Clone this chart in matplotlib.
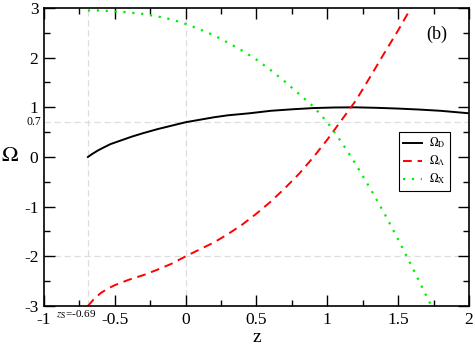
import matplotlib
matplotlib.use("Agg")
import matplotlib.pyplot as plt
from matplotlib.ticker import MultipleLocator

plt.rcParams['font.family'] = ['Liberation Serif', 'DejaVu Serif']
plt.rcParams['mathtext.fontset'] = 'stix'

# values
z_d = [-0.69, -0.66, -0.62, -0.58, -0.53, -0.45, -0.38, -0.3, -0.2, -0.1, 0.0, 0.1, 0.2, 0.3,
       0.45, 0.6, 0.75, 0.9, 1.05, 1.2, 1.35, 1.5, 1.65, 1.8, 2.0]
omega_d = [0.0, 0.06, 0.13, 0.19, 0.26, 0.34, 0.41, 0.48, 0.56, 0.63, 0.70, 0.75, 0.80, 0.84,
           0.88, 0.93, 0.96, 0.985, 0.997, 1.0, 0.99, 0.975, 0.955, 0.93, 0.88]

z_l = [-0.69, -0.65, -0.6, -0.55, -0.5, -0.4, -0.3, -0.2, -0.1, 0.0, 0.1, 0.2, 0.3, 0.4, 0.5,
       0.6, 0.7, 0.8, 0.9, 1.0, 1.1, 1.2, 1.3, 1.4, 1.5, 1.59]
omega_l = [-3.0, -2.87, -2.74, -2.65, -2.58, -2.47, -2.38, -2.27, -2.15, -2.0, -1.86, -1.72,
           -1.55, -1.36, -1.14, -0.9, -0.63, -0.34, -0.01, 0.35, 0.74, 1.13, 1.6, 2.08, 2.55, 3.0]

z_x = [-0.69, -0.6, -0.5, -0.4, -0.3, -0.2, -0.1, 0.0, 0.1, 0.2, 0.3, 0.4, 0.5, 0.6, 0.7,
       0.8, 0.9, 1.0, 1.1, 1.2, 1.3, 1.4, 1.5, 1.6, 1.7, 1.74]
omega_x = [2.95, 2.95, 2.93, 2.91, 2.88, 2.83, 2.77, 2.68, 2.57, 2.45, 2.30, 2.14, 1.96, 1.75,
           1.52, 1.27, 1.02, 0.7, 0.3, -0.14, -0.62, -1.12, -1.66, -2.22, -2.8, -3.03]

x_ticks = [-1, -0.5, 0, 0.5, 1, 1.5, 2]
x_labels = ['-1', '-0.5', '0', '0.5', '1', '1.5', '2']
y_ticks = [-3, -2, -1, 0, 1, 2, 3]
y_labels = ['-3', '-2', '-1', '0', '1', '2', '3']

z_s = -0.69
ref_lines_x = [z_s, 0.0]
ref_lines_y = [0.7, -2.0]

fig = plt.figure(figsize=(4.75, 3.46), dpi=100)
ax = fig.add_axes([0.0926, 0.1156, 0.8947, 0.8613])

for xv in ref_lines_x:
    ax.axvline(xv, color='#dddddd', lw=0.9, ls=(0, (5, 3)), zorder=0)
for yv in ref_lines_y:
    ax.axhline(yv, color='#dddddd', lw=0.9, ls=(0, (5, 3)), zorder=0)

ax.plot(z_d, omega_d, color='black', lw=1.4, label=r'$\Omega_{\rm D}$')
ax.plot(z_l, omega_l, color='#ff0000', lw=1.4, ls=(0, (4.5, 3)), label=r'$\Omega_{\Lambda}$')
ax.plot(z_x, omega_x, color='#00ee00', lw=1.6, ls=(0, (1, 3)), label=r'$\Omega_{\rm X}$')

ax.set_xlim(-1, 2)
ax.set_ylim(-3, 3)
ax.set_xticks(x_ticks)
ax.set_xticklabels(x_labels)
ax.set_yticks(y_ticks)
ax.set_yticklabels(y_labels)
ax.xaxis.set_minor_locator(MultipleLocator(0.25))
ax.yaxis.set_minor_locator(MultipleLocator(0.5))
ax.tick_params(which='both', direction='in', top=True, right=True, labelsize=12.5, pad=4)
ax.tick_params(which='major', length=8, width=1)
ax.tick_params(which='minor', length=4, width=1)
for s in ax.spines.values():
    s.set_linewidth(1.2)

ax.text(-1.02, 0.7, '0.7', ha='right', va='center', fontsize=8.5)
ax.text(-0.775, -3.17, r'$z_{\rm S}$=-0.69', ha='center', va='center', fontsize=8)
ax.text(1.77, 2.46, '(b)', ha='center', va='center', fontsize=13)

ax.set_xlabel('z', fontsize=14, va='center')
ax.xaxis.set_label_coords(0.5, -0.105)
ax.set_ylabel(r'$\Omega$', fontsize=16, rotation=0, va='center', ha='center')
ax.yaxis.set_label_coords(-0.08, 0.5)

leg = ax.legend(loc='upper left', bbox_to_anchor=(0.835, 0.585), fontsize=8.5,
                frameon=True, fancybox=False, edgecolor='black', framealpha=1,
                handlelength=1.6, handletextpad=0.6, borderpad=0.35, labelspacing=0.3,
                borderaxespad=0)
leg.get_frame().set_linewidth(0.8)

fig.savefig('out.png', dpi=100)
